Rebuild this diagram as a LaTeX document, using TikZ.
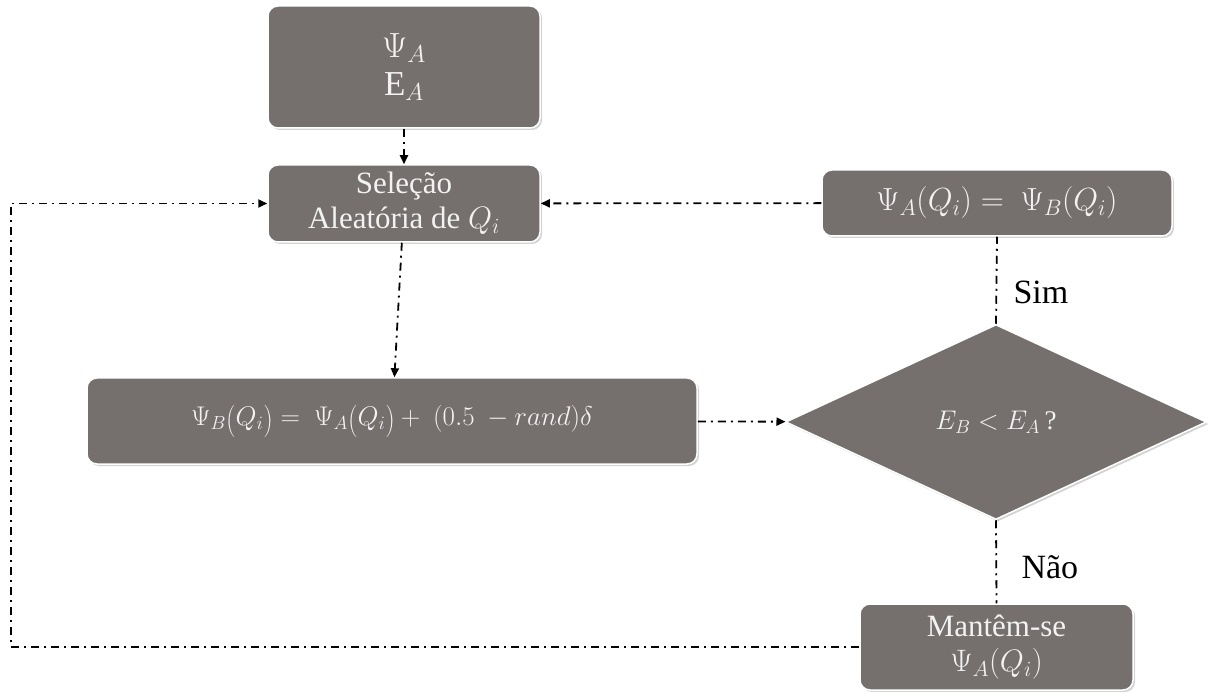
\documentclass[tikz,border=0pt]{standalone}
\usepackage{fix-cm}
\usepackage{graphicx}
\usepackage{fontspec}
\setmainfont{Liberation Serif}
\usetikzlibrary{shapes.geometric,arrows.meta,shadows}
\definecolor{boxgray}{RGB}{117,111,110}
\definecolor{boxtext}{RGB}{242,242,242}
\newcommand{\tallL}{\mathopen{\raisebox{-0.12em}{\scalebox{1}[1.2]{$($}}}}
\newcommand{\tallR}{\mathclose{\raisebox{-0.12em}{\scalebox{1}[1.2]{$)$}}}}
\tikzset{
  box/.style={draw=white, line width=1.5pt, fill=boxgray, rounded corners=10pt,
    text=boxtext, align=center, inner sep=0pt, font=\fontsize{31}{35}\selectfont,
    drop shadow={opacity=0.35, shadow xshift=2pt, shadow yshift=-2pt}},
  decision/.style={diamond, draw=white, line width=1.5pt, fill=boxgray,
    text=boxtext, inner sep=0pt, font=\fontsize{27}{34}\selectfont,
    drop shadow={opacity=0.35, shadow xshift=2pt, shadow yshift=-2pt}},
  flow/.style={line width=1.8pt, dash pattern=on 8pt off 5pt on 2pt off 5pt},
  answer/.style={anchor=west, font=\fontsize{34}{40}\selectfont}
}
\begin{document}
\begin{tikzpicture}[x=1pt, y=-1pt]
      \useasboundingbox (0,0) rectangle (1210,692);
      \node[box, minimum width=272pt, minimum height=122pt, font=\fontsize{35}{38}\selectfont]
        (start) at (404,67) {$\Psi_A$\\$\mathrm{E}_A$};
      \node[box, minimum width=272pt, minimum height=77pt] (select) at (404,203.5)
        {Seleção\\Aleatória de $Q_i$};
      \node[box, minimum width=350pt, minimum height=66pt, font=\fontsize{32}{35}\selectfont]
        (equal) at (997,203) {$\Psi_A(Q_i) =\ \Psi_B(Q_i)$};
      \node[box, minimum width=610pt, minimum height=86pt, font=\fontsize{27}{34}\selectfont]
        (update) at (392,421)
        {$\Psi_B\tallL Q_i\tallR =\ \Psi_A\tallL Q_i\tallR +\ (0.5\ - rand)\delta$};
      \node[decision, minimum width=421pt, minimum height=195pt] (test) at (996,422)
        {$E_B < E_A\,$?};
      \node[box, minimum width=273pt, minimum height=86pt] (keep) at (996.5,647)
        {Mantêm-se\\$\Psi_A(Q_i)$};
      \coordinate (loop) at (11,647);
      \node[answer] (yes) at (1010,292) {Sim};
      \node[answer] (no) at (1018,567) {Não};
      \begin{scope}[flow, -{Triangle[length=9pt,width=8pt]}]
        \draw (start) -- (select);
        \draw (select) -- (update);
        \draw (update) -- (test);
        \draw (equal) -- (select);
        \draw (keep.west) -- (loop) |- (select.west);
      \end{scope}
      \begin{scope}[flow]
        \draw (test.north) -- (equal.south);
        \draw (test.south) -- (keep.north);
      \end{scope}
    \end{tikzpicture}
\end{document}
